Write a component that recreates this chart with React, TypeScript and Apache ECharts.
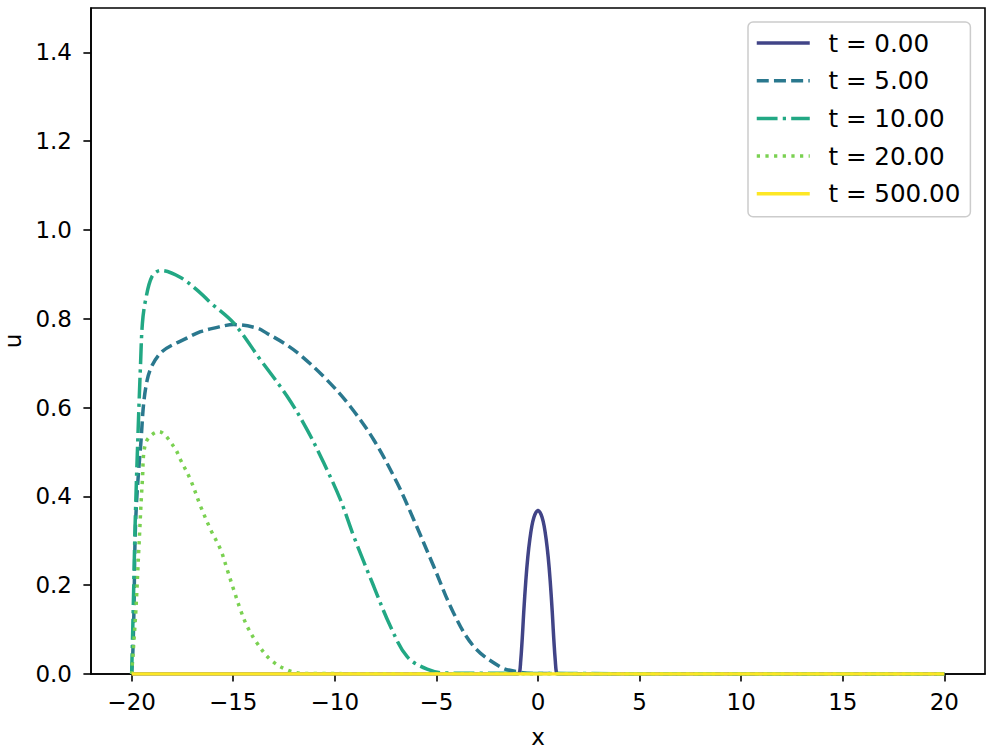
import React, { useEffect, useRef } from "react";
import * as echarts from "echarts";

// ---- data ----
const xTicks = [-20, -15, -10, -5, 0, 5, 10, 15, 20];
const yTicks = [0, 0.2, 0.4, 0.6, 0.8, 1.0, 1.2, 1.4];
const seriesNames = ["t = 0.00", "t = 5.00", "t = 10.00", "t = 20.00", "t = 500.00"];

const uT0: [number, number][] = [
  [-20, 0], [-1, 0], [-0.95, 0.001], [-0.9, 0.005], [-0.85, 0.03], [-0.8, 0.062], [-0.75, 0.1],
  [-0.7, 0.141], [-0.6, 0.21], [-0.5, 0.264], [-0.4, 0.304], [-0.3, 0.334], [-0.2, 0.353],
  [-0.1, 0.364], [0, 0.368], [0.1, 0.364], [0.2, 0.353], [0.3, 0.334], [0.4, 0.304],
  [0.5, 0.264], [0.6, 0.21], [0.7, 0.141], [0.75, 0.1], [0.8, 0.062], [0.85, 0.03],
  [0.9, 0.005], [0.95, 0.001], [1, 0], [20, 0],
];
const uT5: [number, number][] = [
  [-20, 0], [-19.94, 0.05], [-19.89, 0.137], [-19.8, 0.347], [-19.56, 0.512], [-19.23, 0.663],
  [-18.57, 0.723], [-17.26, 0.757], [-16.61, 0.771], [-15.95, 0.779], [-14.97, 0.787],
  [-13.82, 0.779], [-13.33, 0.767], [-12.5, 0.745], [-11.69, 0.718], [-10.38, 0.662],
  [-9.23, 0.602], [-8.08, 0.527], [-6.93, 0.43], [-6.11, 0.347], [-5.13, 0.242],
  [-4.15, 0.137], [-3.16, 0.062], [-1.85, 0.016], [-1.03, 0.005], [0, 0.001], [20, 0],
];
const uT10: [number, number][] = [
  [-20, 0], [-19.92, 0.15], [-19.82, 0.35], [-19.68, 0.55], [-19.56, 0.7], [-19.47, 0.79],
  [-19.31, 0.843], [-19.0, 0.895], [-18.57, 0.909], [-17.59, 0.893], [-16.61, 0.858],
  [-16.11, 0.836], [-14.97, 0.79], [-13.65, 0.707], [-12.34, 0.625], [-11.36, 0.55],
  [-10.54, 0.475], [-9.72, 0.392], [-9.06, 0.309], [-8.08, 0.197], [-7.26, 0.107],
  [-6.44, 0.039], [-5.46, 0.011], [-4.5, 0.002], [20, 0],
];
const uT20: [number, number][] = [
  [-20, 0], [-19.8, 0.137], [-19.64, 0.287], [-19.47, 0.437], [-19.31, 0.52], [-18.66, 0.546],
  [-17.92, 0.512], [-17.59, 0.482], [-17.1, 0.437], [-16.6, 0.377], [-16.11, 0.325],
  [-15.62, 0.28], [-15.29, 0.234], [-14.97, 0.189], [-14.64, 0.144], [-14.31, 0.107],
  [-13.82, 0.069], [-13.16, 0.032], [-12.34, 0.009], [-11.5, 0.001], [20, 0],
];
const uT500: [number, number][] = [
  [-20, 0], [-10, 0], [0, 0], [10, 0], [20, 0],
];

// ---- styles ----
const FONT = "DejaVu Sans";
const FS = 23;
const LEG_FS = 24.6;
const LW = 3.5;
const colors = ["#414487", "#2a788e", "#22a884", "#7ad151", "#fde725"];
const dashes: any[] = ["solid", [12, 5.2], [20.8, 5.2, 3.25, 5.2], [3.25, 5.4], "solid"];
const minus = (s: string) => s.replace(/-/g, "\u2212");

export default function App() {
  const ref = useRef<HTMLDivElement>(null);
  useEffect(() => {
    if (!ref.current) return;
    const chart = echarts.init(ref.current, undefined, { renderer: "svg" });
    const allData = [uT0, uT5, uT10, uT20, uT500];
    chart.setOption({
      animation: false,
      backgroundColor: "#ffffff",
      grid: {
        left: 91, top: 8, width: 894, height: 666,
        outerBoundsMode: "none", containLabel: false,
        show: true, borderColor: "#000", borderWidth: 1.6, backgroundColor: "transparent",
      },
      xAxis: {
        type: "value", min: -22, max: 22,
        name: "x", nameLocation: "middle", nameGap: 51,
        nameTextStyle: { fontFamily: FONT, fontSize: FS, color: "#000" },
        axisLine: { show: true, onZero: false, lineStyle: { color: "#000", width: 1.6 } },
        axisTick: { show: true, length: 7.6, lineStyle: { color: "#000", width: 1.6 }, customValues: xTicks },
        axisLabel: {
          customValues: xTicks, margin: 16, fontFamily: FONT, fontSize: FS, color: "#000",
          formatter: (v: number) => minus(String(v)),
        },
        splitLine: { show: false },
      },
      yAxis: {
        type: "value", min: 0, max: 1.5,
        name: "u", nameLocation: "middle", nameGap: 67,
        nameTextStyle: { fontFamily: FONT, fontSize: FS, color: "#000" },
        axisLine: { show: true, onZero: false, lineStyle: { color: "#000", width: 1.6 } },
        axisTick: { show: true, length: 7.6, lineStyle: { color: "#000", width: 1.6 }, customValues: yTicks },
        axisLabel: {
          customValues: yTicks, margin: 19, fontFamily: FONT, fontSize: FS, color: "#000",
          formatter: (v: number) => v.toFixed(1),
        },
        splitLine: { show: false },
      },
      legend: {
        orient: "vertical", left: 748, top: 22,
        padding: [8, 10, 10, 7],
        itemWidth: 53, itemHeight: 14, itemGap: 11.7,
        itemStyle: { opacity: 0 },
        lineStyle: { width: LW },
        backgroundColor: "rgba(255,255,255,0.8)", borderColor: "#cccccc", borderWidth: 1.5, borderRadius: 5,
        textStyle: { fontFamily: FONT, fontSize: LEG_FS, color: "#000", lineHeight: 26, padding: [0, 0, 0, 13.7] },
        data: seriesNames,
      },
      series: seriesNames.map((name, i) => ({
        name, type: "line", data: allData[i],
        showSymbol: false, symbol: "none",
        smooth: 0.35,
        color: colors[i],
        lineStyle: { color: colors[i], width: LW, type: dashes[i] },
        z: 2 + i,
      })),
    });
    return () => chart.dispose();
  }, []);
  return <div ref={ref} style={{ position: "fixed", left: 0, top: 0, width: 1002, height: 756 }} />;
}
